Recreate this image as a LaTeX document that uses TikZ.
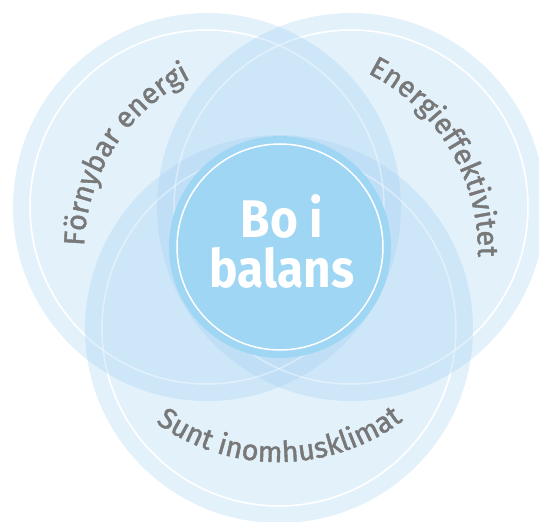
\documentclass[tikz,border=0pt]{standalone}
\usepackage{fontspec}
\usetikzlibrary{decorations.text}
\newfontfamily\bofont[FakeStretch=0.9]{Fira Sans}
\newfontfamily\arcfont[FakeBold=1.5]{Fira Sans}
\definecolor{vennblue}{RGB}{157,206,241}
\definecolor{midblue}{RGB}{159,214,244}
\definecolor{textgray}{RGB}{120,120,120}
\begin{document}
\begin{tikzpicture}[x=1pt,y=1pt,
    venn/.style={fill=vennblue,fill opacity=.29},
    ring/.style={draw=white,line width=1.5pt},
    curved/.style={decorate,decoration={text along path,text align=center,
      text={|\arcfont\fontsize{29}{29}\selectfont\color{textgray}|#1}}}]
    \useasboundingbox (0,0) rectangle (539,522);
    \coordinate (1) at (207,315);
    \coordinate (2) at (351,315);
    \coordinate (3) at (279,193);
    \coordinate (4) at (280,275);
    \coordinate (o) at (278,270);
    % the three circles
    \foreach \i in {1,2,3} \path[venn] (\i) circle (194);
    \foreach \i in {1,2,3} \draw[ring,opacity=.4] (\i) circle (177);
    \foreach \i/\j/\k in {1/2/3,2/3/1,3/1/2}{
      \begin{scope}
        \clip (-9,-9) -- (-9,531) -- (548,531) -- (548,-9) -- cycle (\j) circle (194);
        \clip (-9,-9) -- (-9,531) -- (548,531) -- (548,-9) -- cycle (\k) circle (194);
        \draw[ring] (\i) circle (177);
      \end{scope}}
    % middle
    \fill[midblue] (4) circle (111);
    \draw[ring] (4) circle (103);
    \node[text=white,align=center,font=\bofont\bfseries\fontsize{53}{50}\selectfont] (bo) at (282,281) {Bo i\\balans};
    % labels
    \path[curved={Förnybar energi}] (o) ++(182:194) arc[start angle=182,end angle=113,radius=194];
    \path[curved=Energieffektivitet] (o) ++(67:200) arc[start angle=67,end angle=-5,radius=200];
    \path[curved={Sunt inomhusklimat}] (o) ++(228:210) arc[start angle=228,end angle=313,radius=210];
\end{tikzpicture}
\end{document}
